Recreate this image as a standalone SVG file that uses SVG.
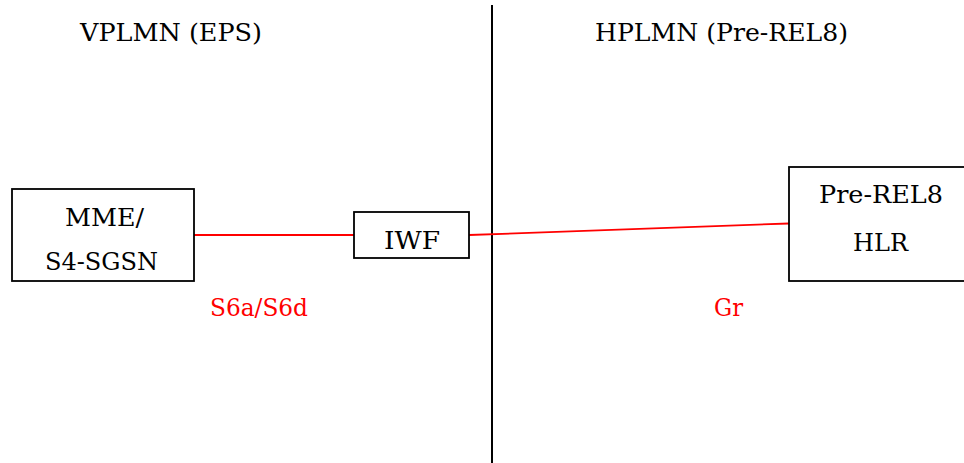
<svg xmlns="http://www.w3.org/2000/svg" width="964" height="463" viewBox="0 0 964 463">
  <style>
    .box { fill: #ffffff; stroke: #000000; stroke-width: 1.8; }
    .lbl { font-family: "DejaVu Serif", serif; font-size: 25px; fill: #000000; }
    .ifc { font-family: "DejaVu Serif", serif; font-size: 25px; fill: #ff0000; }
    .link { stroke: #ff0000; stroke-width: 1.8; fill: none; }
    .border { stroke: #000000; stroke-width: 2; }
  </style>
  <rect width="964" height="463" fill="#ffffff"/>

  <!-- network boundary -->
  <line class="border" x1="492" y1="5" x2="492" y2="463"/>
  <text class="lbl" x="80" y="41" textLength="182" lengthAdjust="spacingAndGlyphs">VPLMN (EPS)</text>
  <text class="lbl" x="595" y="41" textLength="253" lengthAdjust="spacingAndGlyphs">HPLMN (Pre-REL8)</text>

  <!-- interfaces -->
  <g id="connectors">
    <line class="link" x1="194" y1="235" x2="354" y2="235"/>
    <line class="link" x1="469" y1="235" x2="789" y2="223.5"/>
    <text class="ifc" x="210" y="316" textLength="98" lengthAdjust="spacingAndGlyphs">S6a/S6d</text>
    <text class="ifc" x="714" y="316" textLength="29" lengthAdjust="spacingAndGlyphs">Gr</text>
  </g>

  <g id="mme">
    <rect class="box" x="12" y="189" width="182" height="92"/>
    <text class="lbl" x="65" y="226" textLength="79" lengthAdjust="spacingAndGlyphs">MME/</text>
    <text class="lbl" x="45" y="270" textLength="113" lengthAdjust="spacingAndGlyphs">S4-SGSN</text>
  </g>

  <g id="iwf">
    <rect class="box" x="354" y="212" width="115" height="46"/>
    <text class="lbl" x="384" y="249" textLength="56" lengthAdjust="spacingAndGlyphs">IWF</text>
  </g>

  <g id="hlr">
    <rect class="box" x="789" y="167" width="185" height="114"/>
    <text class="lbl" x="819" y="203" textLength="124" lengthAdjust="spacingAndGlyphs">Pre-REL8</text>
    <text class="lbl" x="853" y="251" textLength="55" lengthAdjust="spacingAndGlyphs">HLR</text>
  </g>
</svg>
